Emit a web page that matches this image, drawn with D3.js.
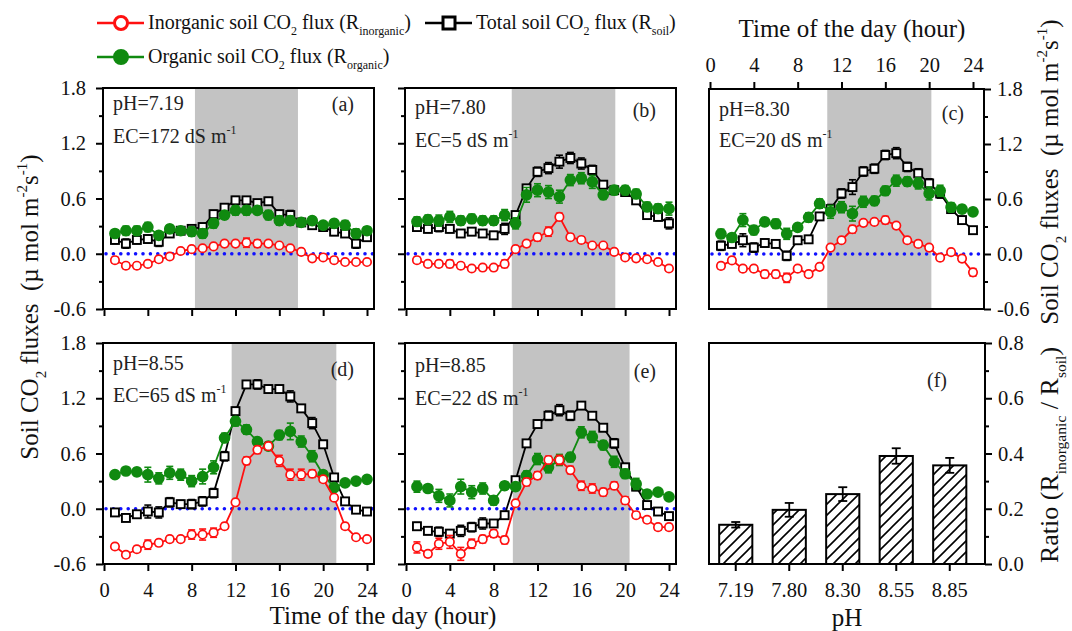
<!DOCTYPE html>
<html>
<head>
<meta charset="utf-8">
<script src="https://cdn.jsdelivr.net/npm/d3@7"></script>
<style>
  body { margin: 0; background: #fff; }
  svg { display: block; }
</style>
</head>
<body>
<div id="chart"></div>
<script>
// hours of the day (x values of every series)
var hours = [1,2,3,4,5,6,7,8,9,10,11,12,13,14,15,16,17,18,19,20,21,22,23,24];
var hourTicks = [0,4,8,12,16,20,24];
var fluxTicks = [-0.6,0,0.6,1.2,1.8];
var fluxMinor = [-0.3,0.3,0.9,1.5];

// (a) pH 7.19
var aTotal = [0.15,0.11,0.15,0.16,0.13,0.22,0.25,0.27,0.29,0.43,0.5,0.58,0.58,0.55,0.57,0.43,0.42,0.34,0.31,0.29,0.24,0.22,0.11,0.18];
var aOrganic = [0.22,0.25,0.25,0.29,0.2,0.27,0.25,0.24,0.22,0.33,0.42,0.47,0.47,0.47,0.42,0.36,0.36,0.34,0.36,0.31,0.33,0.31,0.22,0.25];
var aInorganic = [-0.07,-0.13,-0.13,-0.11,-0.06,-0.03,0.03,0.05,0.06,0.08,0.11,0.11,0.12,0.11,0.11,0.09,0.06,0.02,-0.05,-0.04,-0.07,-0.09,-0.09,-0.09];
var aTotalErr = [0.04,0.05,0.04,0.04,0.05,0.03,0.03,0.03,0.04,0.04,0.04,0.04,0.03,0.03,0.04,0.04,0.05,0.03,0.03,0.03,0.04,0.04,0.05,0.04];
var aOrganicErr = [0.04,0.05,0.05,0.05,0.04,0.04,0.04,0.05,0.05,0.05,0.04,0.05,0.05,0.04,0.05,0.05,0.05,0.04,0.04,0.03,0.04,0.05,0.05,0.04];
var aInorganicErr = [0.03,0.03,0.03,0.02,0.03,0.02,0.02,0.02,0.02,0.02,0.02,0.02,0.05,0.04,0.03,0.02,0.02,0.02,0.02,0.02,0.02,0.02,0.02,0.02];

// (b) pH 7.80
var bTotal = [0.29,0.27,0.29,0.27,0.22,0.24,0.22,0.2,0.27,0.42,0.71,0.89,0.93,1.0,1.04,0.98,0.91,0.75,0.69,0.67,0.58,0.42,0.4,0.33];
var bOrganic = [0.35,0.37,0.36,0.4,0.36,0.38,0.36,0.36,0.42,0.33,0.64,0.69,0.67,0.62,0.8,0.82,0.78,0.64,0.69,0.69,0.65,0.51,0.49,0.49];
var bInorganic = [-0.07,-0.11,-0.11,-0.11,-0.13,-0.16,-0.15,-0.15,-0.11,0.05,0.11,0.18,0.24,0.4,0.18,0.15,0.09,0.09,0.02,-0.04,-0.05,-0.06,-0.09,-0.16];
var bTotalErr = [0.04,0.04,0.05,0.04,0.04,0.04,0.04,0.04,0.06,0.04,0.04,0.05,0.06,0.07,0.06,0.06,0.05,0.04,0.04,0.04,0.04,0.04,0.04,0.06];
var bOrganicErr = [0.05,0.05,0.06,0.06,0.05,0.05,0.05,0.05,0.06,0.06,0.08,0.07,0.07,0.07,0.06,0.06,0.07,0.05,0.05,0.05,0.05,0.05,0.05,0.07];
var bInorganicErr = [0.03,0.02,0.03,0.04,0.03,0.02,0.03,0.03,0.04,0.03,0.03,0.04,0.05,0.04,0.03,0.03,0.02,0.02,0.02,0.02,0.02,0.02,0.02,0.03];

// (c) pH 8.30
var cTotal = [0.09,0.11,0.15,0.07,0.12,0.11,-0.02,0.15,0.16,0.41,0.49,0.66,0.73,0.9,0.93,1.08,1.1,0.95,0.88,0.77,0.66,0.49,0.37,0.26];
var cOrganic = [0.22,0.18,0.37,0.26,0.35,0.33,0.22,0.29,0.4,0.55,0.46,0.51,0.44,0.57,0.58,0.69,0.8,0.79,0.77,0.66,0.69,0.51,0.49,0.46];
var cInorganic = [-0.13,-0.07,-0.16,-0.16,-0.22,-0.22,-0.26,-0.16,-0.22,-0.14,0.07,0.15,0.27,0.34,0.35,0.37,0.31,0.15,0.11,0.07,-0.04,0.02,-0.05,-0.2];
var cTotalErr = [0.05,0.04,0.07,0.05,0.04,0.04,0.05,0.04,0.04,0.04,0.05,0.05,0.08,0.05,0.05,0.05,0.06,0.05,0.05,0.05,0.05,0.04,0.04,0.03];
var cOrganicErr = [0.05,0.04,0.07,0.05,0.04,0.05,0.06,0.04,0.05,0.05,0.07,0.06,0.08,0.06,0.05,0.05,0.06,0.05,0.06,0.07,0.06,0.05,0.04,0.04];
var cInorganicErr = [0.03,0.03,0.03,0.03,0.04,0.04,0.05,0.03,0.03,0.03,0.02,0.03,0.04,0.03,0.03,0.04,0.03,0.03,0.03,0.03,0.03,0.02,0.03,0.04];

// (d) pH 8.55
var dTotal = [-0.04,-0.1,-0.06,-0.03,-0.04,0.07,0.05,0.05,0.08,0.17,0.57,1.06,1.35,1.35,1.3,1.3,1.22,1.09,0.93,0.7,0.34,0.08,-0.01,-0.03];
var dOrganic = [0.37,0.41,0.4,0.37,0.33,0.39,0.37,0.3,0.35,0.45,0.77,0.95,0.86,0.73,0.68,0.8,0.84,0.73,0.57,0.37,0.23,0.28,0.3,0.32];
var dInorganic = [-0.41,-0.5,-0.44,-0.39,-0.37,-0.33,-0.33,-0.28,-0.28,-0.26,-0.19,0.07,0.52,0.64,0.68,0.52,0.37,0.37,0.38,0.32,0.12,-0.19,-0.31,-0.33];
var dTotalErr = [0.02,0.03,0.03,0.07,0.06,0.05,0.04,0.05,0.05,0.05,0.05,0.04,0.04,0.05,0.04,0.04,0.06,0.04,0.06,0.04,0.04,0.03,0.02,0.02];
var dOrganicErr = [0.03,0.03,0.04,0.08,0.06,0.07,0.06,0.06,0.08,0.07,0.05,0.05,0.05,0.04,0.04,0.05,0.09,0.06,0.06,0.04,0.04,0.03,0.03,0.03];
var dInorganicErr = [0.03,0.03,0.03,0.05,0.03,0.03,0.03,0.05,0.06,0.05,0.03,0.02,0.04,0.04,0.04,0.06,0.06,0.06,0.04,0.03,0.03,0.03,0.02,0.02];

// (e) pH 8.85
var eTotal = [-0.19,-0.24,-0.25,-0.27,-0.24,-0.2,-0.16,-0.16,-0.07,0.31,0.71,0.92,1.01,1.07,1.01,1.12,1.01,0.88,0.71,0.45,0.24,0.04,-0.03,-0.08];
var eOrganic = [0.24,0.22,0.14,0.09,0.24,0.18,0.22,0.09,0.25,0.24,0.36,0.54,0.45,0.53,0.56,0.83,0.78,0.69,0.51,0.38,0.27,0.16,0.18,0.13];
var eInorganic = [-0.42,-0.49,-0.38,-0.36,-0.49,-0.38,-0.33,-0.27,-0.34,0.06,0.29,0.36,0.53,0.53,0.42,0.25,0.22,0.18,0.25,0.09,-0.07,-0.12,-0.2,-0.2];
var eTotalErr = [0.04,0.04,0.05,0.04,0.06,0.05,0.06,0.04,0.04,0.03,0.03,0.04,0.05,0.06,0.05,0.03,0.03,0.04,0.05,0.04,0.04,0.03,0.03,0.03];
var eOrganicErr = [0.06,0.04,0.07,0.07,0.08,0.07,0.06,0.05,0.04,0.04,0.05,0.06,0.06,0.06,0.05,0.06,0.06,0.05,0.06,0.05,0.06,0.04,0.03,0.03];
var eInorganicErr = [0.06,0.03,0.06,0.07,0.07,0.05,0.04,0.04,0.04,0.03,0.04,0.04,0.04,0.05,0.04,0.05,0.05,0.04,0.04,0.04,0.03,0.03,0.03,0.03];

// shaded daytime windows (hour from, hour to)
var aShade = [8.3, 17.7];
var bShade = [9.65, 19.1];
var cShade = [10.7, 20.2];
var dShade = [11.65, 21.2];
var eShade = [9.75, 20.4];

// (f) ratio bars
var pHLabels = ['7.19','7.80','8.30','8.55','8.85'];
var ratio = [0.142, 0.196, 0.253, 0.391, 0.357];
var ratioErr = [0.01, 0.025, 0.025, 0.028, 0.027];
var ratioTicks = [0, 0.2, 0.4, 0.6, 0.8];
var ratioMinor = [0.1, 0.3, 0.5, 0.7];

var FONT = "'Liberation Serif', 'Times New Roman', serif";
var RED = '#ff1010', GREEN = '#108a10', BLACK = '#000', BLUE = '#1010ff';
var TICK_FS = 20.5, TITLE_FS = 25, ANN_FS = 20, LEG_FS = 20;

var svg = d3.select('#chart').append('svg').attr('width', 1072).attr('height', 631)
    .style('font-family', FONT);

var defs = svg.append('defs');
var hatch = defs.append('pattern').attr('id', 'hatch')
    .attr('patternUnits', 'userSpaceOnUse').attr('width', 11).attr('height', 11);
hatch.append('rect').attr('width', 11).attr('height', 11).attr('fill', '#fff');
hatch.append('path').attr('d', 'M-1,12 L12,-1 M-3,3 L3,-3 M8,14 L14,8')
    .attr('stroke', '#000').attr('stroke-width', 1.6);

// text with sub / superscripts
function rich(sel, parts, size) {
    var cur = 0;
    parts.forEach(function (p) {
        var shift = p.sub ? 0.3 * size : (p.sup ? -0.45 * size : 0);
        var ts = sel.append('tspan').text(p.t).attr('dy', shift - cur);
        if (p.sub || p.sup) ts.attr('font-size', size * 0.6);
        cur = shift;
    });
    return sel;
}

function styleAxis(ax, labelled) {
    ax.select('.domain').remove();
    ax.selectAll('.tick line').attr('stroke', '#000').attr('stroke-width', 2);
    ax.selectAll('.tick text').attr('font-family', FONT).attr('font-size', TICK_FS).attr('fill', '#111');
    if (!labelled) ax.selectAll('.tick text').remove();
}

function fmt(d) { return d.toFixed(1); }

var panels = [
    {id: 'a', x0: 103, y0: 88, w: 271, h: 221, pH: '7.19', ec: '172', shade: aShade,
     total: aTotal, organic: aOrganic, inorganic: aInorganic, tErr: aTotalErr, oErr: aOrganicErr, iErr: aInorganicErr,
     left: 'label', bottom: 'plain', ann: [22, 55, 23]},
    {id: 'b', x0: 405, y0: 88, w: 271, h: 221, pH: '7.80', ec: '5', shade: bShade,
     total: bTotal, organic: bOrganic, inorganic: bInorganic, tErr: bTotalErr, oErr: bOrganicErr, iErr: bInorganicErr,
     left: 'plain', bottom: 'plain', ann: [26, 59, 29]},
    {id: 'c', x0: 709, y0: 89, w: 275, h: 220, pH: '8.30', ec: '20', shade: cShade,
     total: cTotal, organic: cOrganic, inorganic: cInorganic, tErr: cTotalErr, oErr: cOrganicErr, iErr: cInorganicErr,
     right: 'label', top: 'label', ann: [27, 58, 31]},
    {id: 'd', x0: 103, y0: 343, w: 271, h: 221, pH: '8.55', ec: '65', shade: dShade,
     total: dTotal, organic: dOrganic, inorganic: dInorganic, tErr: dTotalErr, oErr: dOrganicErr, iErr: dInorganicErr,
     left: 'label', bottom: 'label', ann: [27, 59, 33]},
    {id: 'e', x0: 405, y0: 343, w: 271, h: 221, pH: '8.85', ec: '22', shade: eShade,
     total: eTotal, organic: eOrganic, inorganic: eInorganic, tErr: eTotalErr, oErr: eOrganicErr, iErr: eInorganicErr,
     left: 'plain', bottom: 'label', ann: [29, 62, 35]}
];

function drawSeries(g, x, y, vals, errs, color, shape) {
    var pts = hours.map(function (h, i) { return {h: h, v: vals[i], e: errs[i]}; });
    var s = g.append('g');
    s.append('path').datum(pts)
        .attr('d', d3.line().x(function (d) { return x(d.h); }).y(function (d) { return y(d.v); }))
        .attr('fill', 'none').attr('stroke', color).attr('stroke-width', 1.8);
    var eb = s.selectAll('.err').data(pts).enter().append('g').attr('class', 'err')
        .attr('stroke', color).attr('stroke-width', 1.6);
    eb.append('line')
        .attr('x1', function (d) { return x(d.h); }).attr('x2', function (d) { return x(d.h); })
        .attr('y1', function (d) { return y(d.v - d.e); }).attr('y2', function (d) { return y(d.v + d.e); });
    [-1, 1].forEach(function (sgn) {
        eb.append('line')
            .attr('x1', function (d) { return x(d.h) - 3.5; }).attr('x2', function (d) { return x(d.h) + 3.5; })
            .attr('y1', function (d) { return y(d.v + sgn * d.e); }).attr('y2', function (d) { return y(d.v + sgn * d.e); });
    });
    if (shape === 'square') {
        s.selectAll('.m').data(pts).enter().append('rect')
            .attr('x', function (d) { return x(d.h) - 4; }).attr('y', function (d) { return y(d.v) - 4; })
            .attr('width', 8).attr('height', 8)
            .attr('fill', '#fff').attr('stroke', color).attr('stroke-width', 1.9);
    } else {
        s.selectAll('.m').data(pts).enter().append('circle')
            .attr('cx', function (d) { return x(d.h); }).attr('cy', function (d) { return y(d.v); })
            .attr('r', shape === 'filled' ? 5 : 4.2)
            .attr('fill', shape === 'filled' ? color : '#fff')
            .attr('stroke', color).attr('stroke-width', 1.7);
    }
}

panels.forEach(function (p) {
    var x = d3.scaleLinear().domain([0, 24]).range([p.x0 + 1, p.x0 + 264]);
    var y = d3.scaleLinear().domain([-0.6, 1.8]).range([p.y0 + p.h, p.y0]);
    var g = svg.append('g').attr('class', 'panel-' + p.id);

    g.append('rect')
        .attr('x', x(p.shade[0])).attr('y', p.y0)
        .attr('width', x(p.shade[1]) - x(p.shade[0])).attr('height', p.h)
        .attr('fill', '#c3c3c3');

    g.append('line')
        .attr('x1', p.x0 + 3).attr('x2', p.x0 + p.w).attr('y1', y(0)).attr('y2', y(0))
        .attr('stroke', BLUE).attr('stroke-width', 3.6)
        .attr('stroke-linecap', 'round').attr('stroke-dasharray', '0,7.4');

    drawSeries(g, x, y, p.total, p.tErr, BLACK, 'square');
    drawSeries(g, x, y, p.organic, p.oErr, GREEN, 'filled');
    drawSeries(g, x, y, p.inorganic, p.iErr, RED, 'open');

    g.append('rect').attr('x', p.x0).attr('y', p.y0).attr('width', p.w).attr('height', p.h)
        .attr('fill', 'none').attr('stroke', '#000').attr('stroke-width', 2);

    if (p.left) {
        var la = g.append('g').attr('transform', 'translate(' + p.x0 + ',0)')
            .call(d3.axisLeft(y).tickValues(fluxTicks).tickSize(7).tickPadding(10).tickFormat(fmt));
        styleAxis(la, p.left === 'label');
        styleAxis(g.append('g').attr('transform', 'translate(' + p.x0 + ',0)')
            .call(d3.axisLeft(y).tickValues(fluxMinor).tickSize(4).tickFormat('')), false);
    }
    if (p.right) {
        var ra = g.append('g').attr('transform', 'translate(' + (p.x0 + p.w) + ',0)')
            .call(d3.axisRight(y).tickValues(fluxTicks).tickSize(7).tickPadding(6).tickFormat(fmt));
        styleAxis(ra, true);
        styleAxis(g.append('g').attr('transform', 'translate(' + (p.x0 + p.w) + ',0)')
            .call(d3.axisRight(y).tickValues(fluxMinor).tickSize(4).tickFormat('')), false);
    }
    if (p.bottom) {
        var ba = g.append('g').attr('transform', 'translate(0,' + (p.y0 + p.h) + ')')
            .call(d3.axisBottom(x).tickValues(hourTicks).tickSize(7).tickPadding(11));
        styleAxis(ba, p.bottom === 'label');
    }
    if (p.top) {
        var ta = g.append('g').attr('transform', 'translate(0,' + p.y0 + ')')
            .call(d3.axisTop(x).tickValues(hourTicks).tickSize(7).tickPadding(10));
        styleAxis(ta, true);
    }

    g.append('text').attr('x', p.x0 + 10).attr('y', p.y0 + p.ann[0])
        .attr('font-size', ANN_FS).attr('fill', '#222').text('pH=' + p.pH);
    rich(g.append('text').attr('x', p.x0 + 10).attr('y', p.y0 + p.ann[1])
        .attr('font-size', ANN_FS).attr('fill', '#222'),
        [{t: 'EC=' + p.ec + ' dS m'}, {t: '-1', sup: true}], ANN_FS);
    g.append('text').attr('x', p.x0 + p.w - 20).attr('y', p.y0 + p.ann[2])
        .attr('text-anchor', 'end').attr('font-size', ANN_FS).attr('fill', '#222').text('(' + p.id + ')');
});

// (f) ratio bars
(function () {
    var x0 = 709, y0 = 343, w = 276, h = 221;
    var x = d3.scaleBand().domain(pHLabels).range([x0, x0 + 267.5]).paddingInner(0.38).paddingOuter(0.19);
    var y = d3.scaleLinear().domain([0, 0.8]).range([y0 + h, y0]);
    var g = svg.append('g').attr('class', 'panel-f');

    var bars = g.selectAll('.bar').data(pHLabels).enter().append('g');
    bars.append('rect')
        .attr('x', function (d) { return x(d); }).attr('width', x.bandwidth())
        .attr('y', function (d, i) { return y(ratio[i]); })
        .attr('height', function (d, i) { return y(0) - y(ratio[i]); })
        .attr('fill', 'url(#hatch)').attr('stroke', '#000').attr('stroke-width', 2);
    bars.append('line')
        .attr('x1', function (d) { return x(d) + x.bandwidth() / 2; })
        .attr('x2', function (d) { return x(d) + x.bandwidth() / 2; })
        .attr('y1', function (d, i) { return y(ratio[i] - ratioErr[i]); })
        .attr('y2', function (d, i) { return y(ratio[i] + ratioErr[i]); })
        .attr('stroke', '#000').attr('stroke-width', 1.8);
    [-1, 1].forEach(function (sgn) {
        bars.append('line')
            .attr('x1', function (d) { return x(d) + x.bandwidth() / 2 - 4.5; })
            .attr('x2', function (d) { return x(d) + x.bandwidth() / 2 + 4.5; })
            .attr('y1', function (d, i) { return y(ratio[i] + sgn * ratioErr[i]); })
            .attr('y2', function (d, i) { return y(ratio[i] + sgn * ratioErr[i]); })
            .attr('stroke', '#000').attr('stroke-width', 1.8);
    });

    g.append('rect').attr('x', x0).attr('y', y0).attr('width', w).attr('height', h)
        .attr('fill', 'none').attr('stroke', '#000').attr('stroke-width', 2);

    var ra = g.append('g').attr('transform', 'translate(' + (x0 + w) + ',0)')
        .call(d3.axisRight(y).tickValues(ratioTicks).tickSize(7).tickPadding(6).tickFormat(fmt));
    styleAxis(ra, true);
    styleAxis(g.append('g').attr('transform', 'translate(' + (x0 + w) + ',0)')
        .call(d3.axisRight(y).tickValues(ratioMinor).tickSize(4).tickFormat('')), false);
    var ba = g.append('g').attr('transform', 'translate(0,' + (y0 + h) + ')')
        .call(d3.axisBottom(x).tickSize(7).tickPadding(11));
    styleAxis(ba, true);

    g.append('text').attr('x', x0 + w - 38).attr('y', y0 + 44)
        .attr('text-anchor', 'end').attr('font-size', ANN_FS).attr('fill', '#222').text('(f)');
})();

// axis titles
svg.append('text').attr('x', 383).attr('y', 624).attr('text-anchor', 'middle')
    .attr('font-size', TITLE_FS).attr('fill', '#111').text('Time of the day (hour)');
svg.append('text').attr('x', 852).attr('y', 37).attr('text-anchor', 'middle')
    .attr('font-size', TITLE_FS).attr('fill', '#111').text('Time of the day (hour)');
svg.append('text').attr('x', 847).attr('y', 626).attr('text-anchor', 'middle')
    .attr('font-size', TITLE_FS).attr('fill', '#111').text('pH');

var fluxTitle = [{t: 'Soil CO'}, {t: '2', sub: true}, {t: ' fluxes  (\u00b5 mol m'}, {t: '-2', sup: true},
    {t: 's'}, {t: '-1', sup: true}, {t: ')'}];
rich(svg.append('text').attr('transform', 'translate(38,307) rotate(-90)')
    .attr('text-anchor', 'middle').attr('font-size', TITLE_FS).attr('fill', '#111').style('white-space', 'pre'),
    fluxTitle, TITLE_FS);
rich(svg.append('text').attr('transform', 'translate(1058,172) rotate(-90)')
    .attr('text-anchor', 'middle').attr('font-size', TITLE_FS).attr('fill', '#111').style('white-space', 'pre'),
    fluxTitle, TITLE_FS);
rich(svg.append('text').attr('transform', 'translate(1058,455) rotate(-90)')
    .attr('text-anchor', 'middle').attr('font-size', TITLE_FS + 1).attr('fill', '#111'),
    [{t: 'Ratio (R'}, {t: 'inorganic', sub: true}, {t: ' / R'}, {t: 'soil', sub: true}, {t: ')'}], TITLE_FS + 1);

// legend
var legend = svg.append('g').attr('class', 'legend');
var legendItems = [
    {x: 97, y: 23, color: RED, shape: 'open',
     parts: [{t: 'Inorganic soil CO'}, {t: '2', sub: true}, {t: ' flux (R'}, {t: 'inorganic', sub: true}, {t: ')'}]},
    {x: 425, y: 23, color: BLACK, shape: 'square',
     parts: [{t: 'Total soil CO'}, {t: '2', sub: true}, {t: ' flux (R'}, {t: 'soil', sub: true}, {t: ')'}]},
    {x: 97, y: 57, color: GREEN, shape: 'filled',
     parts: [{t: 'Organic soil CO'}, {t: '2', sub: true}, {t: ' flux (R'}, {t: 'organic', sub: true}, {t: ')'}]}
];
legendItems.forEach(function (it) {
    var lg = legend.append('g');
    lg.append('line').attr('x1', it.x).attr('x2', it.x + 47).attr('y1', it.y).attr('y2', it.y)
        .attr('stroke', it.color).attr('stroke-width', 2.6);
    if (it.shape === 'square') {
        lg.append('rect').attr('x', it.x + 18).attr('y', it.y - 6).attr('width', 12).attr('height', 12)
            .attr('fill', '#fff').attr('stroke', it.color).attr('stroke-width', 3);
    } else {
        lg.append('circle').attr('cx', it.x + 24).attr('cy', it.y).attr('r', 6.5)
            .attr('fill', it.shape === 'filled' ? it.color : '#fff')
            .attr('stroke', it.color).attr('stroke-width', 3);
    }
    rich(lg.append('text').attr('x', it.x + 51).attr('y', it.y + 6)
        .attr('font-size', LEG_FS).attr('fill', '#111'), it.parts, LEG_FS);
});
</script>
</body>
</html>
